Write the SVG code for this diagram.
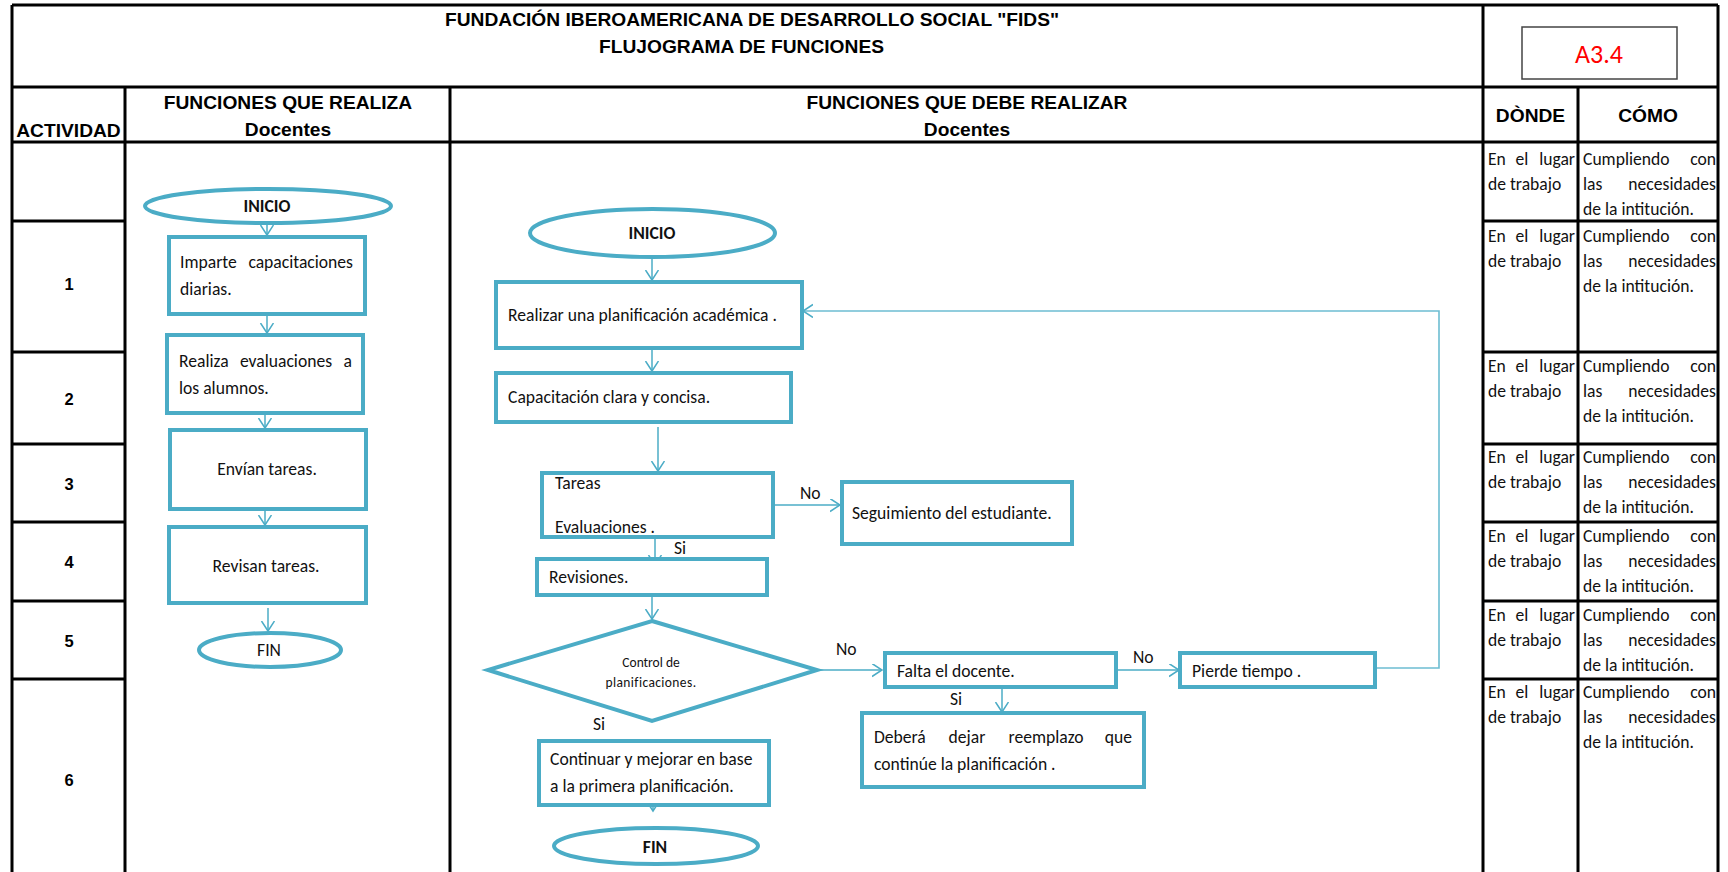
<svg xmlns="http://www.w3.org/2000/svg" width="1728" height="872" viewBox="0 0 1728 872">
<style>
.tb{stroke:#000;stroke-width:3;fill:none}
.box{fill:#fff;stroke:#4bacc6;stroke-width:4}
.conn{stroke:#4bacc6;stroke-width:1.5;fill:none;marker-end:url(#ah)}
.fb{stroke:#6dbdd2;stroke-width:1.6;fill:none;marker-end:url(#ah)}
.h{font-family:"Liberation Sans",Arial,sans-serif;font-weight:bold;font-size:19.2px;fill:#000}
.n{font-family:"Liberation Sans",Arial,sans-serif;font-weight:bold;font-size:16.5px;fill:#000;text-anchor:middle}
.t{font-family:Carlito,Calibri,Lato,sans-serif;font-size:17.6px;fill:#111}
.tc{font-family:Carlito,Calibri,Lato,sans-serif;font-size:17.6px;fill:#111;text-anchor:middle}
.tb2{font-family:Carlito,Calibri,Lato,sans-serif;font-size:17.6px;font-weight:bold;fill:#111;text-anchor:middle}
.td{font-family:Carlito,Calibri,Lato,sans-serif;font-size:13.5px;fill:#111;text-anchor:middle}
.e{text-anchor:end}
.m{text-anchor:middle}
</style>
<defs>
<marker id="ah" markerUnits="userSpaceOnUse" markerWidth="14" markerHeight="16" refX="10" refY="6.5" orient="auto">
<path d="M0,0 L10,6.5 L0,13" fill="none" stroke="#4bacc6" stroke-width="1.5"/>
</marker>
</defs>
<rect width="1728" height="872" fill="#fff"/>

<g id="table">
<line class="tb" x1="12" y1="5" x2="1718" y2="5"/>
<line class="tb" x1="12" y1="5" x2="12" y2="872"/>
<line class="tb" x1="1718" y1="5" x2="1718" y2="872"/>
<line class="tb" x1="12" y1="87" x2="1718" y2="87"/>
<line class="tb" x1="1483" y1="5" x2="1483" y2="872"/>
<line class="tb" x1="125" y1="87" x2="125" y2="872"/>
<line class="tb" x1="450" y1="87" x2="450" y2="872"/>
<line class="tb" x1="1578" y1="87" x2="1578" y2="872"/>
<line class="tb" x1="12" y1="142" x2="1718" y2="142"/>
<path class="tb" d="M12,221H125M12,352H125M12,444H125M12,522H125M12,601H125M12,679H125"/>
<path class="tb" d="M1483,221H1718M1483,352H1718M1483,444H1718M1483,522H1718M1483,601H1718M1483,679H1718"/>
<text class="h" x="445" y="26">FUNDACIÓN IBEROAMERICANA DE DESARROLLO SOCIAL "FIDS"</text>
<text class="h" x="599" y="53">FLUJOGRAMA DE FUNCIONES</text>
<rect x="1522" y="27" width="155" height="52" fill="#fff" stroke="#444" stroke-width="1.5"/>
<text x="1599" y="63" font-family="Carlito,Calibri,Lato,sans-serif" font-size="26" fill="#ff0000" text-anchor="middle">A3.4</text>
<text class="h m" x="68.5" y="137">ACTIVIDAD</text>
<text class="h m" x="288" y="109">FUNCIONES QUE REALIZA</text>
<text class="h m" x="288" y="136">Docentes</text>
<text class="h m" x="967" y="109">FUNCIONES QUE DEBE REALIZAR</text>
<text class="h m" x="967" y="136">Docentes</text>
<text class="h m" x="1530.5" y="122">DÒNDE</text>
<text class="h m" x="1648" y="122">CÓMO</text>
<text class="n" x="69" y="290">1</text>
<text class="n" x="69" y="405">2</text>
<text class="n" x="69" y="490">3</text>
<text class="n" x="69" y="568">4</text>
<text class="n" x="69" y="647">5</text>
<text class="n" x="69" y="786">6</text>
</g>

<g id="donde-como">
<g id="dc-r0">
<text class="t" x="1488" y="165">En</text><text class="tc" x="1522" y="165">el</text><text class="t e" x="1575" y="165">lugar</text>
<text class="t" x="1488" y="190">de trabajo</text>
<text class="t" x="1583" y="165">Cumpliendo</text><text class="t e" x="1716" y="165">con</text>
<text class="t" x="1583" y="190">las</text><text class="t e" x="1716" y="190">necesidades</text>
<text class="t" x="1583" y="215">de la intitución.</text>
</g>
<g id="dc-r1">
<text class="t" x="1488" y="242">En</text><text class="tc" x="1522" y="242">el</text><text class="t e" x="1575" y="242">lugar</text>
<text class="t" x="1488" y="267">de trabajo</text>
<text class="t" x="1583" y="242">Cumpliendo</text><text class="t e" x="1716" y="242">con</text>
<text class="t" x="1583" y="267">las</text><text class="t e" x="1716" y="267">necesidades</text>
<text class="t" x="1583" y="292">de la intitución.</text>
</g>
<g id="dc-r2">
<text class="t" x="1488" y="372">En</text><text class="tc" x="1522" y="372">el</text><text class="t e" x="1575" y="372">lugar</text>
<text class="t" x="1488" y="397">de trabajo</text>
<text class="t" x="1583" y="372">Cumpliendo</text><text class="t e" x="1716" y="372">con</text>
<text class="t" x="1583" y="397">las</text><text class="t e" x="1716" y="397">necesidades</text>
<text class="t" x="1583" y="422">de la intitución.</text>
</g>
<g id="dc-r3">
<text class="t" x="1488" y="463">En</text><text class="tc" x="1522" y="463">el</text><text class="t e" x="1575" y="463">lugar</text>
<text class="t" x="1488" y="488">de trabajo</text>
<text class="t" x="1583" y="463">Cumpliendo</text><text class="t e" x="1716" y="463">con</text>
<text class="t" x="1583" y="488">las</text><text class="t e" x="1716" y="488">necesidades</text>
<text class="t" x="1583" y="513">de la intitución.</text>
</g>
<g id="dc-r4">
<text class="t" x="1488" y="542">En</text><text class="tc" x="1522" y="542">el</text><text class="t e" x="1575" y="542">lugar</text>
<text class="t" x="1488" y="567">de trabajo</text>
<text class="t" x="1583" y="542">Cumpliendo</text><text class="t e" x="1716" y="542">con</text>
<text class="t" x="1583" y="567">las</text><text class="t e" x="1716" y="567">necesidades</text>
<text class="t" x="1583" y="592">de la intitución.</text>
</g>
<g id="dc-r5">
<text class="t" x="1488" y="621">En</text><text class="tc" x="1522" y="621">el</text><text class="t e" x="1575" y="621">lugar</text>
<text class="t" x="1488" y="646">de trabajo</text>
<text class="t" x="1583" y="621">Cumpliendo</text><text class="t e" x="1716" y="621">con</text>
<text class="t" x="1583" y="646">las</text><text class="t e" x="1716" y="646">necesidades</text>
<text class="t" x="1583" y="671">de la intitución.</text>
</g>
<g id="dc-r6">
<text class="t" x="1488" y="698">En</text><text class="tc" x="1522" y="698">el</text><text class="t e" x="1575" y="698">lugar</text>
<text class="t" x="1488" y="723">de trabajo</text>
<text class="t" x="1583" y="698">Cumpliendo</text><text class="t e" x="1716" y="698">con</text>
<text class="t" x="1583" y="723">las</text><text class="t e" x="1716" y="723">necesidades</text>
<text class="t" x="1583" y="748">de la intitución.</text>
</g>
</g>

<g id="connectors">
<line class="conn" x1="267" y1="224" x2="267" y2="235"/>
<line class="conn" x1="267" y1="316" x2="267" y2="333"/>
<line class="conn" x1="265" y1="415" x2="265" y2="428"/>
<line class="conn" x1="265" y1="511" x2="265" y2="525"/>
<line class="conn" x1="268" y1="608" x2="268" y2="631"/>
<line class="conn" x1="652" y1="258" x2="652" y2="280"/>
<line class="conn" x1="652" y1="350" x2="652" y2="371"/>
<line class="conn" x1="658" y1="427" x2="658" y2="471"/>
<line class="conn" x1="775" y1="505" x2="840" y2="505"/>
<line class="conn" x1="655" y1="539" x2="655" y2="565"/>
<line class="conn" x1="652" y1="597" x2="652" y2="619"/>
<line class="conn" x1="818" y1="670" x2="882" y2="670"/>
<line class="conn" x1="655" y1="682" x2="655" y2="702"/>
<line class="conn" x1="653" y1="783" x2="653" y2="811"/>
<line class="conn" x1="1118" y1="670" x2="1179" y2="670"/>
<line class="conn" x1="1002" y1="689" x2="1002" y2="712"/>
<path class="fb" d="M1377,668 H1439 V311 H803"/>
<text class="t" x="800" y="499">No</text>
<text class="t" x="674" y="554">Si</text>
<text class="t" x="836" y="655">No</text>
<text class="t" x="593" y="730">Si</text>
<text class="t" x="1133" y="663">No</text>
<text class="t" x="950" y="705">Si</text>
</g>

<g id="left-inicio">
<ellipse class="box" cx="268" cy="206" rx="123" ry="17"/>
<text class="tb2" x="267" y="212">INICIO</text>
</g>
<g id="left-imparte">
<rect class="box" x="169" y="237" width="196" height="77"/>
<text class="t" x="180" y="268">Imparte</text><text class="t e" x="353" y="268">capacitaciones</text>
<text class="t" x="180" y="295">diarias.</text>
</g>
<g id="left-realiza">
<rect class="box" x="167" y="335" width="196" height="78"/>
<text class="t" x="179" y="367">Realiza</text><text class="tc" x="286" y="367">evaluaciones</text><text class="t e" x="352" y="367">a</text>
<text class="t" x="179" y="394">los alumnos.</text>
</g>
<g id="left-envian">
<rect class="box" x="170" y="430" width="196" height="79"/>
<text class="tc" x="267" y="475">Envían tareas.</text>
</g>
<g id="left-revisan">
<rect class="box" x="169" y="527" width="197" height="76"/>
<text class="tc" x="266" y="572">Revisan tareas.</text>
</g>
<g id="left-fin">
<ellipse class="box" cx="270" cy="650" rx="71" ry="17"/>
<text class="tc" x="269" y="656">FIN</text>
</g>

<g id="right-inicio">
<ellipse class="box" cx="652.5" cy="233" rx="122.5" ry="24"/>
<text class="tb2" x="652" y="239">INICIO</text>
</g>
<g id="right-planificacion">
<rect class="box" x="496" y="282" width="306" height="66"/>
<text class="t" x="508" y="321">Realizar una planificación académica .</text>
</g>
<g id="right-capacitacion">
<rect class="box" x="496" y="373" width="295" height="49"/>
<text class="t" x="508" y="403">Capacitación clara y concisa.</text>
</g>
<g id="right-tareas">
<rect class="box" x="542" y="473" width="231" height="64"/>
<text class="t" x="555" y="489">Tareas</text>
<text class="t" x="555" y="533">Evaluaciones .</text>
</g>
<g id="right-seguimiento">
<rect class="box" x="842" y="482" width="230" height="62"/>
<text class="t" x="852" y="519">Seguimiento del estudiante.</text>
</g>
<g id="right-revisiones">
<rect class="box" x="537" y="559" width="230" height="36"/>
<text class="t" x="549" y="583">Revisiones.</text>
</g>
<g id="right-control">
<polygon class="box" points="652,621 817,670 652,721 488,670"/>
<text class="td" x="651" y="667">Control de</text>
<text class="td" x="651" y="687" letter-spacing="0.4">planificaciones.</text>
</g>
<g id="right-continuar">
<rect class="box" x="539" y="741" width="230" height="64"/>
<text class="t" x="550" y="765">Continuar y mejorar en base</text>
<text class="t" x="550" y="792">a la primera planificación.</text>
</g>
<g id="right-fin">
<ellipse class="box" cx="656" cy="846" rx="102" ry="18"/>
<text class="tb2" x="655" y="853">FIN</text>
</g>
<g id="right-falta">
<rect class="box" x="885" y="653" width="231" height="34"/>
<text class="t" x="897" y="677">Falta el docente.</text>
</g>
<g id="right-pierde">
<rect class="box" x="1180" y="653" width="195" height="34"/>
<text class="t" x="1192" y="677">Pierde tiempo .</text>
</g>
<g id="right-debera">
<rect class="box" x="862" y="713" width="282" height="74"/>
<text class="t" x="874" y="743">Deberá</text><text class="tc" x="967" y="743">dejar</text><text class="tc" x="1046" y="743">reemplazo</text><text class="t e" x="1132" y="743">que</text>
<text class="t" x="874" y="770">continúe la planificación .</text>
</g>
</svg>
